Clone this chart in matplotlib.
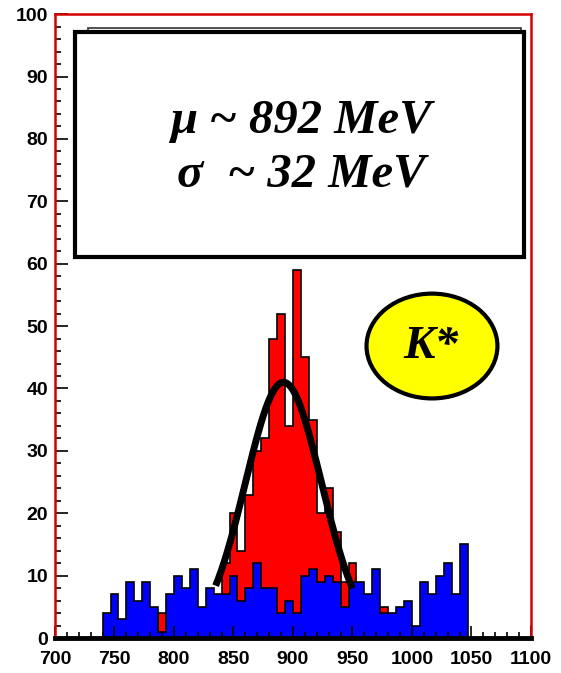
import numpy as np
import matplotlib
matplotlib.use('Agg')
import matplotlib.pyplot as plt
from matplotlib.patches import Rectangle, Ellipse
from matplotlib.ticker import MultipleLocator

# Histogram binning: 60 bins between 700 and 1100 MeV
bin_edges = np.linspace(700, 1100, 61)

# Signal-region counts (red)
red_counts = [0, 0, 0, 0, 0, 0, 0, 0, 0, 0,
              0, 0, 0, 4, 2, 3, 2, 4, 3, 5,
              6, 12, 20, 14, 23, 30, 32, 48, 52, 34,
              59, 45, 35, 20, 24, 17, 9, 12, 7, 5,
              3, 5, 3, 2, 1, 0, 0, 0, 0, 0,
              0, 0, 0, 0, 0, 0, 0, 0, 0, 0]

# Background counts (blue)
blue_counts = [0, 0, 0, 0, 0, 0, 4, 7, 3, 9,
               6, 9, 5, 1, 7, 10, 8, 11, 5, 8,
               7, 7, 10, 6, 8, 12, 8, 8, 4, 6,
               4, 10, 11, 9, 10, 9, 5, 9, 9, 7,
               11, 4, 4, 5, 6, 2, 9, 7, 10, 12,
               7, 15, 0, 0, 0, 0, 0, 0, 0, 0]

# Gaussian fit parameters
fit_mean = 892.0
fit_sigma = 32.0
fit_amp = 41.0
fit_range = (835, 950)

fig = plt.figure(figsize=(5.61, 6.73), dpi=100)
ax = fig.add_axes([0.098, 0.052, 0.8485, 0.927])

ax.stairs(red_counts, bin_edges, fill=True, color='#ff0000', zorder=1)
ax.stairs(red_counts, bin_edges, color='black', linewidth=1.2, zorder=1.1)
ax.stairs(blue_counts, bin_edges, fill=True, color='#0000ff', zorder=1.2)
ax.stairs(blue_counts, bin_edges, color='black', linewidth=1.2, zorder=1.3)

xf = np.linspace(fit_range[0], fit_range[1], 300)
yf = fit_amp * np.exp(-0.5 * ((xf - fit_mean) / fit_sigma) ** 2)
ax.plot(xf, yf, color='black', linewidth=5, solid_capstyle='butt', zorder=3)

ax.set_xlim(700, 1100)
ax.set_ylim(0, 100)

# ROOT-style frame and inward ticks
for side in ['left', 'top', 'right']:
    ax.spines[side].set_color('#d40000')
    ax.spines[side].set_linewidth(1.8)
ax.spines['bottom'].set_color('black')
ax.spines['bottom'].set_linewidth(3.5)

ax.xaxis.set_major_locator(MultipleLocator(50))
ax.xaxis.set_minor_locator(MultipleLocator(10))
ax.yaxis.set_major_locator(MultipleLocator(10))
ax.yaxis.set_minor_locator(MultipleLocator(2))
ax.tick_params(which='both', direction='in', color='black', width=1.2)
ax.tick_params(which='major', length=9)
ax.tick_params(which='minor', length=4.5)
ax.tick_params(axis='x', which='major', pad=9)
ax.tick_params(axis='y', which='major', pad=5)
for lbl in ax.get_xticklabels() + ax.get_yticklabels():
    lbl.set_fontfamily('Liberation Sans')
    lbl.set_fontweight('bold')
    lbl.set_fontsize(14)

# Fit result box with a thin frame behind it
back = Rectangle((0.069, 0.62), 0.91, 0.3576, transform=ax.transAxes,
                 facecolor='white', edgecolor='#333333', linewidth=1.2, zorder=4)
ax.add_patch(back)
box = Rectangle((0.042, 0.611), 0.943, 0.3606, transform=ax.transAxes,
                facecolor='white', edgecolor='black', linewidth=3, zorder=5)
ax.add_patch(box)

serif = dict(family='Liberation Serif', weight='bold', style='italic',
             ha='center', va='center', transform=ax.transAxes, zorder=6)
ax.text(0.517, 0.828, 'μ ~ 892 MeV', fontsize=35, **serif)
ax.text(0.517, 0.743, 'σ  ~ 32 MeV', fontsize=35, **serif)

# K* badge
badge = Ellipse((0.792, 0.468), 0.275, 0.168, transform=ax.transAxes,
                facecolor='#ffff00', edgecolor='black', linewidth=3, zorder=5)
ax.add_patch(badge)
ax.text(0.790, 0.466, 'K*', fontsize=34, **serif)

fig.savefig('out.png', dpi=100)
